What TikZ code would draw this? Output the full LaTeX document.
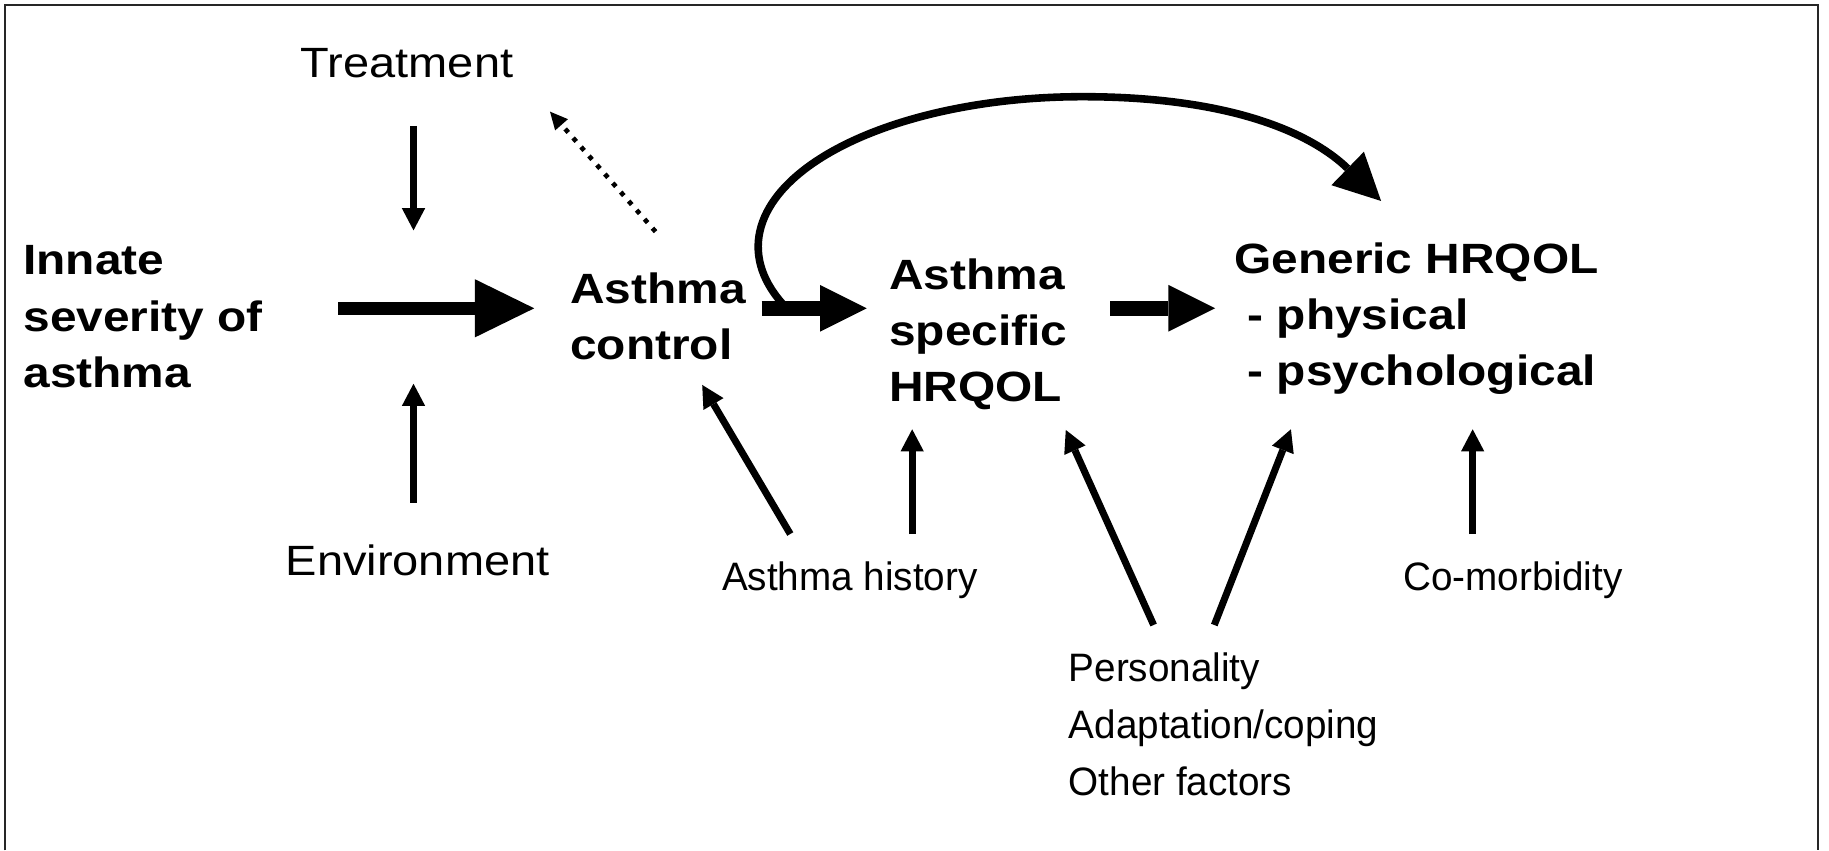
\documentclass[tikz,border=0pt]{standalone}
\usepackage{fontspec}
\setmainfont{Liberation Sans}
\newfontfamily\boldwide{Liberation Sans}[FakeStretch=1.13]
\newfontfamily\regwide{Liberation Sans}[FakeStretch=1.11]
\newfontfamily\narrowf{Liberation Sans}[FakeStretch=0.975]
\usetikzlibrary{arrows.meta}
\tikzset{
  bigtext/.style={inner sep=0pt, anchor=base west, align=left,
    font=\boldwide\bfseries\fontsize{18.15}{24.15}\selectfont},
  regtext/.style={inner sep=0pt, anchor=base,
    font=\regwide\fontsize{18.15}{24.15}\selectfont},
  smalltext/.style={inner sep=0pt, align=left,
    font=\narrowf\fontsize{17}{24.3}\selectfont},
  thinarrow/.style={line width=3pt, -{Triangle[length=9.5pt,width=10pt,line width=0pt]}},
  fatarrow/.style={line width=6.5pt, -{Triangle[length=20pt,width=20pt,line width=0pt]}},
  hugearrow/.style={line width=5.75pt, -{Triangle[length=25.5pt,width=25pt,line width=0pt]}},
  curvearrow/.style={line width=3.25pt, -{Triangle[length=20pt,width=20pt,line width=0pt]}},
  dotarrow/.style={line width=2pt, dash pattern=on 2pt off 3.15pt,
    -{Triangle[length=7.5pt,width=7.3pt,line width=0pt]}},
  frame/.style={line width=0.85pt, draw=black!85}
}
\begin{document}
\begin{tikzpicture}[x=0.5pt,y=-0.5pt]
\useasboundingbox (0,0) rectangle (1568,729);
\draw[frame] (4.3,729) -- (4.3,4.3) -- (1558.6,4.3) -- (1558.6,729);

% texts (base anchor = baseline of the last line)
\node[bigtext] (innate) at (19.7,332.3) {Innate\\severity of\\asthma};
\node[bigtext] (control) at (488.5,308.3) {Asthma\\control};
\node[bigtext] (specific) at (762,344.6) {Asthma\\specific\\HRQOL};
\node[bigtext] (generic) at (1057.8,330.9) {Generic HRQOL\\\ - physical\\\ - psychological};
\node[regtext] (treat) at (349,66.3) {Treatment};
\node[regtext] (env) at (358,493) {Environment};
\node[smalltext, anchor=base] (hist) at (728.6,505.8) {Asthma history};
\node[smalltext, anchor=base] (comorb) at (1297,505.8) {Co-morbidity};
\node[smalltext, anchor=base west] (pers) at (915.8,681.6) {Personality\\Adaptation/coping\\Other factors};

% connector end points
\coordinate (treat-a) at (354.5,108);   \coordinate (treat-b) at (354.5,197.5);
\coordinate (env-a) at (354.5,431);     \coordinate (env-b) at (354.5,329);
\coordinate (inn-a) at (290,264.3);     \coordinate (inn-b) at (458,264.3);
\coordinate (ctl-a) at (653,264.3);     \coordinate (ctl-b) at (743,264.3);
\coordinate (spec-a) at (951.6,264.3);  \coordinate (spec-b) at (1041.7,264.3);
\coordinate (dot-a) at (562,198.6);     \coordinate (dot-b) at (471.5,95.7);
\coordinate (hist-a) at (677.5,457.8);  \coordinate (hist-b) at (602,330);
\coordinate (hist-c) at (782,457.8);    \coordinate (hist-d) at (782,368);
\coordinate (pers-a) at (989,535.8);    \coordinate (pers-b) at (913.7,368.6);
\coordinate (pers-c) at (1041,535.8);   \coordinate (pers-d) at (1106.7,368);
\coordinate (com-a) at (1262.5,457.8);  \coordinate (com-b) at (1262.5,368);
\coordinate (cur-a) at (674.4,264.2);   \coordinate (cur-b) at (1184,172.3);

% connectors
\draw[thinarrow] (treat-a) -- (treat-b);
\draw[thinarrow] (env-a) -- (env-b);
\draw[hugearrow] (inn-a) -- (inn-b);
\draw[curvearrow] (cur-a) arc[start angle=155.8, end angle=270, x radius=278, y radius=128.6]
   .. controls (1060,82.9) and (1126.5,116.4) .. (cur-b);
\draw[fatarrow] (ctl-a) -- (ctl-b);
\draw[fatarrow] (spec-a) -- (spec-b);
\draw[dotarrow] (dot-a) -- (dot-b);
\draw[thinarrow] (hist-a) -- (hist-b);
\draw[thinarrow] (hist-c) -- (hist-d);
\draw[thinarrow] (pers-a) -- (pers-b);
\draw[thinarrow] (pers-c) -- (pers-d);
\draw[thinarrow] (com-a) -- (com-b);
\end{tikzpicture}
\end{document}
